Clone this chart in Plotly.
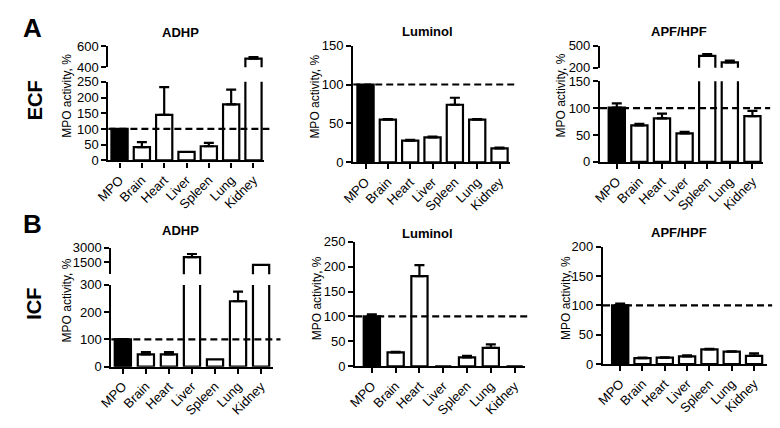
import plotly.graph_objects as go

# ---------------- data ----------------
categories = ["MPO", "Brain", "Heart", "Liver", "Spleen", "Lung", "Kidney"]

ecf_adhp = [100, 42, 145, 27, 45, 178, 482]
ecf_adhp_err = [0, 16, 88, 0, 11, 47, 14]

ecf_luminol = [100, 55, 28, 32, 74, 55, 18]
ecf_luminol_err = [0, 0.5, 1, 1, 9, 0.5, 1]

ecf_apf = [101, 68, 81, 53, 361, 272, 85]
ecf_apf_err = [8, 3, 9, 3, 25, 25, 10]

icf_adhp = [100, 45, 45, 2030, 27, 240, 1250]
icf_adhp_err = [1, 8, 8, 320, 0, 35, 0]

icf_luminol = [100, 28, 181, 0, 18, 37, 0]
icf_luminol_err = [4, 1, 22, 0, 3, 7, 0]

icf_apf = [100, 10, 11, 13, 25, 21, 14]
icf_apf_err = [3, 1, 0.5, 2, 1, 0.5, 4]

reference_level = 100
y_title = "MPO activity, %"

# ---------------- layout helpers ----------------
W, H = 780, 428
FONT = "Liberation Sans, Arial, sans-serif"
LW = 2.2


def fx(px):
    return px / W


def fy(px):
    return 1 - px / H


panels = [
    dict(title="ADHP", vals=ecf_adhp, errs=ecf_adhp_err,
         x_px=(97, 255), xr=(-0.5, 6.46),
         bot_px=(159, 77.5), bot_range=(0, 250), bot_ticks=[0, 50, 100, 150, 200, 250],
         top_px=(62.5, 40.5), top_range=(400, 600), top_ticks=[400, 600],
         dash_end=261, title_xy=(170, 26), ytitle_xy=(55, 92)),
    dict(title="Luminol", vals=ecf_luminol, errs=ecf_luminol_err,
         x_px=(346, 505), xr=(-0.55, 6.45),
         bot_px=(161, 40), bot_range=(0, 150), bot_ticks=[0, 50, 100, 150],
         top_px=None, dash_end=512, title_xy=(422, 25), ytitle_xy=(307, 93)),
    dict(title="APF/HPF", vals=ecf_apf, errs=ecf_apf_err,
         x_px=(597, 763), xr=(-0.74, 6.48),
         bot_px=(160.5, 77), bot_range=(0, 150), bot_ticks=[0, 50, 100, 150],
         top_px=(63, 40), top_range=(200, 500), top_ticks=[200, 500],
         dash_end=770, title_xy=(677, 25), ytitle_xy=(557, 92)),
    dict(title="ADHP", vals=icf_adhp, errs=icf_adhp_err,
         x_px=(100, 264), xr=(-0.5, 6.5),
         bot_px=(372.7, 288), bot_range=(0, 300), bot_ticks=[0, 100, 200, 300],
         top_px=(277, 249.3), top_range=(300, 3000), top_ticks=[1500, 3000],
         dash_end=272, title_xy=(170, 232), ytitle_xy=(55, 304)),
    dict(title="Luminol", vals=icf_luminol, errs=icf_luminol_err,
         x_px=(348, 521), xr=(-0.7, 6.45),
         bot_px=(372.3, 243.3), bot_range=(0, 250), bot_ticks=[0, 50, 100, 150, 200, 250],
         top_px=None, dash_end=523, title_xy=(422, 235), ytitle_xy=(310, 302)),
    dict(title="APF/HPF", vals=icf_apf, errs=icf_apf_err,
         x_px=(600, 767), xr=(-0.77, 6.59),
         bot_px=(370, 248.3), bot_range=(0, 200), bot_ticks=[0, 50, 100, 150, 200],
         top_px=None, dash_end=772, title_xy=(677, 234), ytitle_xy=(563, 302)),
]

fig = go.Figure()
layout = dict(
    width=W, height=H, margin=dict(l=0, r=0, t=0, b=0),
    paper_bgcolor="white", plot_bgcolor="rgba(0,0,0,0)",
    showlegend=False,
    font=dict(family=FONT, color="black", size=12),
)
shapes = []
annotations = []

axis_common = dict(showgrid=False, zeroline=False, showline=True, linecolor="black",
                   linewidth=LW, ticks="outside", ticklen=5, tickwidth=LW,
                   tickcolor="black", fixedrange=True,
                   tickfont=dict(family=FONT, size=13, color="black"))


def add_segment(xr_, yr_, p, lo, hi, bar_w):
    colors = ["black" if c == "MPO" else "white" for c in categories]
    yv = [v if v > lo else None for v in p["vals"]]
    fig.add_trace(go.Bar(x=categories, y=yv, width=bar_w, xaxis=xr_, yaxis=yr_,
                         marker=dict(color=colors, line=dict(color="black", width=LW)),
                         hoverinfo="skip"))
    # error bars only where the whole whisker sits inside this segment
    ex, ey, ee = [], [], []
    for c, v, e in zip(categories, p["vals"], p["errs"]):
        if e > 0 and v >= lo and v + e <= hi:
            ex.append(c)
            ey.append(v)
            ee.append(e)
    if ex:
        fig.add_trace(go.Scatter(x=ex, y=ey, xaxis=xr_, yaxis=yr_, mode="markers",
                                 marker=dict(size=1, color="rgba(0,0,0,0)"),
                                 error_y=dict(type="data", array=ee, arrayminus=[0] * len(ee),
                                              symmetric=False, color="black", thickness=LW, width=5),
                                 hoverinfo="skip"))


top_id = 7
for i, p in enumerate(panels, start=1):
    xk = "xaxis" if i == 1 else f"xaxis{i}"
    yk = "yaxis" if i == 1 else f"yaxis{i}"
    xr_ = "x" if i == 1 else f"x{i}"
    yr_ = "y" if i == 1 else f"y{i}"

    x0, x1 = p["x_px"]
    spacing = (x1 - x0) / (p["xr"][1] - p["xr"][0])
    bar_w = 16.5 / spacing

    layout[xk] = dict(axis_common, domain=[fx(x0), fx(x1)], range=list(p["xr"]),
                      type="category", anchor=yr_, tickangle=-45,
                      categoryorder="array", categoryarray=categories)
    b0, b1 = p["bot_px"]
    layout[yk] = dict(axis_common, domain=[fy(b0), fy(b1)], range=list(p["bot_range"]),
                      tickmode="array", tickvals=p["bot_ticks"], anchor=xr_)
    add_segment(xr_, yr_, p, -1, p["bot_range"][1], bar_w)

    if p["top_px"] is not None:
        tk = f"yaxis{top_id}"
        tr_ = f"y{top_id}"
        t0, t1 = p["top_px"]
        layout[tk] = dict(axis_common, domain=[fy(t0), fy(t1)], range=list(p["top_range"]),
                          tickmode="array", tickvals=p["top_ticks"], anchor=xr_)
        add_segment(xr_, tr_, p, p["top_range"][0], p["top_range"][1], bar_w)
        top_id += 1

    # dashed reference line at 100 %
    shapes.append(dict(type="line", xref=f"{xr_} domain", yref=yr_,
                       x0=0, x1=(p["dash_end"] - x0) / (x1 - x0),
                       y0=reference_level, y1=reference_level,
                       line=dict(color="black", width=LW, dash="7px,4px"), layer="above"))

    tx, ty = p["title_xy"]
    annotations.append(dict(text=f"<b>{p['title']}</b>", x=fx(tx), y=fy(ty), xref="paper", yref="paper",
                            showarrow=False, xanchor="center", yanchor="middle",
                            font=dict(family=FONT, size=13, color="black")))
    ax_, ay_ = p["ytitle_xy"]
    annotations.append(dict(text=y_title, x=fx(ax_), y=fy(ay_), xref="paper", yref="paper",
                            showarrow=False, xanchor="center", yanchor="middle", textangle=-90,
                            font=dict(family=FONT, size=12, color="black")))

# panel letters and row labels
for txt, (x, y), size, ang in [("A", (20, 22), 26, 0), ("B", (20, 225), 26, 0),
                               ("ECF", (22, 97), 20, -90), ("ICF", (22, 308), 20, -90)]:
    annotations.append(dict(text=f"<b>{txt}</b>", x=fx(x), y=fy(y), xref="paper", yref="paper",
                            showarrow=False, xanchor="center", yanchor="middle", textangle=ang,
                            font=dict(family=FONT, size=size, color="black")))

layout["shapes"] = shapes
layout["annotations"] = annotations
fig.update_layout(**layout)
fig.write_html("out.html", config={"displayModeBar": False},
               post_script="document.body.style.margin='0px';document.body.style.padding='0px';")
